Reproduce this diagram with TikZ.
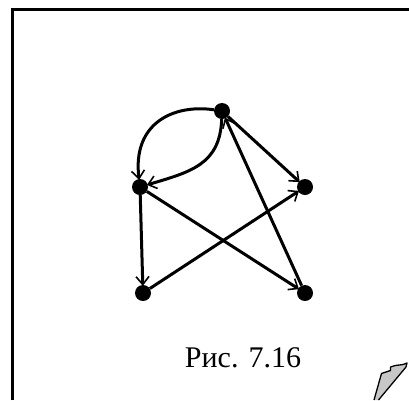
\documentclass[tikz,border=0pt]{standalone}
\usepackage{fontspec}
\setmainfont{Liberation Serif}
\usetikzlibrary{arrows.meta}
\begin{document}
\begin{tikzpicture}[x=1pt,y=-1pt,
  vert/.style={circle,fill=black,inner sep=0pt,minimum size=16pt},
  edge/.style={line width=3pt,-{Straight Barb[length=8pt,width=13pt,line width=1.6pt]},shorten >=-1pt}]
\useasboundingbox (0,0) rectangle (409,400);
\fill[white] (0,0) rectangle (409,400);
% frame
\draw[line width=2.2pt] (12.5,400) -- (12.5,9.5) -- (409,9.5);
% graph
\node[vert] (t) at (222,111) {};
\node[vert] (l) at (140,187) {};
\node[vert] (r) at (305,187) {};
\node[vert] (bl) at (143,293) {};
\node[vert] (br) at (305,293) {};
\draw[edge] (t) .. controls (175,104) and (132,122) .. (l);
\draw[edge] (t) .. controls (220,165) and (190,172) .. (l);
\draw[edge] (t) -- (r);
\draw[edge] (br) -- (t);
\draw[edge] (l) -- (bl);
\draw[edge] (l) -- (br);
\draw[edge] (bl) -- (r);
% caption
\node[font=\fontsize{30}{32}\selectfont,anchor=base] (cap) at (243,367) {Рис. 7.16};
% page curl
\draw[line width=1.3pt,fill=black!22,line join=round] (374,400) -- (381.5,373.5) -- (390.5,370.5) -- (390.5,367) .. controls (397,364) and (402,366) .. (407,363) -- (406,367) -- (378.5,400);
\end{tikzpicture}
\end{document}
